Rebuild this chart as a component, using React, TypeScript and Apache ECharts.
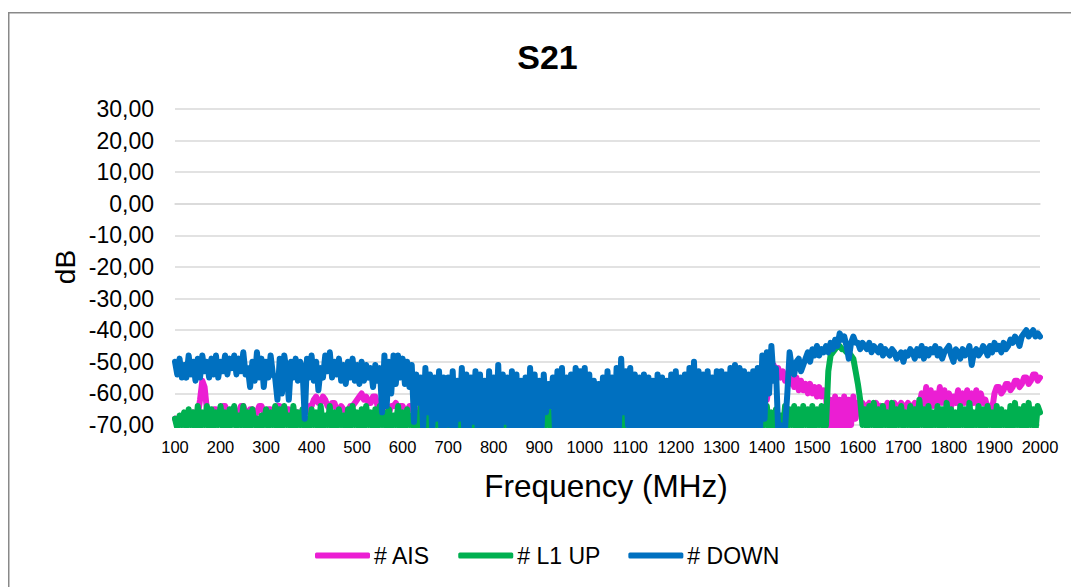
import React, { useEffect, useRef } from "react";
import * as echarts from "echarts";

const FREQ_START = 100;
const FREQ_STEP = 5;

const AIS = [
  -68, -69, -69, -68, -67, -69, -68, -67, -66, -68, -67, -62, -56, -58, -65, -67, -67, -65, -65, -66,
  -66, -64, -64, -67, -67, -65, -65, -67, -66, -64, -64, -66, -67, -65, -65, -67, -66, -64, -64, -66,
  -67, -65, -65, -67, -66, -64, -64, -66, -66, -65, -65, -67, -67, -66, -66, -68, -68, -66, -66, -64,
  -64, -62, -61, -63, -63, -61, -62, -64, -65, -63, -63, -65, -66, -64, -65, -66, -66, -64, -64, -63,
  -62, -61, -60, -62, -61, -63, -63, -61, -61, -64, -65, -64, -64, -65, -66, -64, -64, -63, -65, -64,
  -64, -66, -66, -64, -64, -66, -66, -65, -65, -67, -66, -68, -68, -65, -65, -67, -67, -66, -66, -68,
  -68, -65, -65, -67, -67, -66, -66, -68, -68, -65, -65, -67, -67, -66, -66, -68, -68, -65, -65, -67,
  -67, -66, -66, -68, -68, -65, -65, -67, -67, -66, -66, -68, -67, -65, -66, -67, -68, -66, -65, -67,
  -68, -65, -66, -66, -67, -68, -68, -65, -65, -67, -67, -66, -66, -68, -68, -65, -66, -67, -67, -66,
  -67, -66, -65, -68, -68, -65, -66, -67, -67, -66, -66, -68, -68, -65, -65, -67, -67, -66, -66, -68,
  -68, -65, -65, -67, -67, -66, -66, -68, -68, -65, -65, -67, -67, -66, -66, -68, -68, -65, -65, -67,
  -67, -66, -66, -68, -68, -65, -65, -67, -67, -66, -66, -68, -68, -65, -65, -67, -67, -66, -66, -68,
  -68, -65, -65, -67, -67, -66, -66, -68, -68, -65, -65, -67, -67, -66, -66, -63, -64, -62, -63, -61,
  -62, -57, -53, -51, -54, -52, -55, -53, -56, -54, -57, -54, -58, -55, -59, -56, -59, -57, -60, -57,
  -60, -58, -61, -58, -61, -59, -61, -71, -62, -72, -61, -70, -62, -72, -61, -71, -62, -70, -61, -68,
  -63, -64, -63, -65, -64, -63, -65, -64, -63, -65, -64, -66, -65, -63, -64, -65, -63, -64, -65, -63,
  -65, -64, -63, -65, -64, -63, -65, -64, -60, -64, -58, -63, -59, -64, -60, -63, -58, -63, -59, -64,
  -60, -64, -61, -63, -59, -64, -60, -63, -59, -64, -60, -63, -59, -64, -60, -63, -62, -65, -64, -65,
  -60, -58, -58, -60, -59, -57, -57, -59, -58, -56, -56, -58, -57, -55, -55, -57, -56, -54, -54, -56,
  -55,
];

const L1_UP = [
  -68, -71, -67, -70, -66, -71, -65, -70, -66, -72, -64, -71, -66, -70, -64, -72, -65, -71, -66, -70,
  -64, -71, -66, -72, -65, -70, -64, -71, -67, -70, -64, -72, -66, -71, -65, -70, -68, -72, -67, -70,
  -65, -71, -66, -70, -64, -72, -65, -71, -64, -70, -67, -72, -64, -71, -66, -70, -65, -72, -68, -71,
  -65, -70, -66, -72, -64, -71, -67, -70, -64, -72, -66, -71, -65, -70, -67, -72, -65, -71, -64, -70,
  -66, -72, -65, -71, -64, -70, -66, -72, -65, -71, -64, -70, -66, -72, -65, -71, -67, -70, -64, -72,
  -66, -71, -65, -70, -67, -72, -66, -71, -64, -70, -66, -72, -65, -71, -67, -70, -66, -72, -65, -71,
  -66, -70, -64, -72, -65, -71, -66, -70, -67, -72, -65, -71, -64, -70, -66, -72, -65, -71, -67, -70,
  -64, -72, -66, -71, -65, -70, -67, -72, -64, -71, -66, -70, -65, -72, -67, -71, -64, -70, -66, -72,
  -65, -71, -67, -70, -64, -72, -66, -71, -65, -70, -67, -72, -64, -71, -66, -70, -65, -72, -67, -71,
  -64, -70, -66, -72, -65, -71, -67, -70, -64, -72, -66, -71, -65, -70, -67, -72, -64, -71, -66, -70,
  -65, -72, -67, -71, -64, -70, -66, -72, -65, -71, -67, -70, -64, -72, -66, -71, -65, -70, -67, -72,
  -64, -71, -66, -70, -65, -72, -67, -71, -64, -70, -66, -72, -65, -71, -67, -70, -64, -72, -66, -71,
  -65, -70, -67, -72, -64, -71, -66, -70, -65, -72, -67, -71, -64, -70, -66, -72, -65, -71, -67, -70,
  -64, -72, -66, -71, -65, -70, -67, -72, -64, -71, -65, -70, -64, -72, -65, -71, -64, -70, -65, -72,
  -64, -71, -65, -70, -64, -72, -70, -53, -48, -47, -46, -45, -45, -46, -46, -47, -47, -48, -49, -53,
  -57, -62, -70, -65, -71, -64, -70, -63, -72, -65, -71, -64, -70, -66, -72, -63, -71, -65, -70, -64,
  -71, -66, -70, -64, -72, -65, -71, -62, -70, -65, -72, -64, -71, -66, -70, -64, -72, -65, -71, -63,
  -70, -65, -72, -66, -71, -64, -70, -65, -72, -63, -71, -66, -70, -64, -72, -65, -71, -64, -70, -66,
  -72, -64, -71, -65, -70, -66, -72, -64, -71, -63, -70, -65, -72, -64, -71, -63, -70, -65, -72, -64,
  -66,
];

const DOWN = [
  -50, -54, -49, -55, -51, -55, -48, -54, -50, -56, -49, -55, -48, -53, -50, -55, -49, -54, -48, -55,
  -50, -53, -48, -54, -49, -52, -48, -54, -49, -53, -47, -54, -52, -58, -50, -56, -47, -55, -49, -58,
  -50, -55, -48, -54, -55, -62, -49, -60, -48, -53, -62, -50, -55, -49, -56, -50, -52, -68, -49, -55,
  -48, -56, -50, -59, -52, -55, -48, -53, -47, -55, -50, -54, -49, -56, -51, -57, -50, -55, -49, -56,
  -51, -57, -50, -56, -51, -55, -52, -58, -51, -56, -52, -66, -48, -64, -50, -60, -48, -57, -48, -55,
  -49, -57, -50, -58, -51, -69, -54, -63, -55, -71, -52, -66, -54, -72, -55, -68, -53, -71, -55, -70,
  -55, -70, -53, -72, -56, -68, -52, -71, -54, -73, -55, -69, -53, -72, -54, -70, -56, -72, -53, -71,
  -55, -70, -51, -73, -54, -69, -55, -72, -53, -70, -54, -73, -56, -71, -55, -72, -52, -70, -54, -71,
  -56, -72, -54, -66, -57, -64, -55, -73, -53, -71, -52, -72, -55, -70, -54, -72, -52, -71, -53, -70,
  -52, -72, -54, -70, -56, -73, -57, -71, -55, -72, -53, -73, -55, -70, -52, -71, -49, -66, -53, -70,
  -52, -72, -54, -71, -55, -70, -54, -73, -55, -71, -56, -72, -54, -70, -55, -72, -56, -71, -54, -72,
  -53, -71, -55, -72, -54, -70, -52, -72, -50, -71, -53, -73, -54, -71, -53, -70, -55, -72, -53, -71,
  -53, -70, -54, -72, -52, -71, -51, -73, -52, -70, -53, -72, -54, -71, -53, -70, -52, -72, -48, -68,
  -47, -60, -45, -56, -52, -72, -70, -72, -71, -60, -47, -52, -54, -50, -49, -53, -51, -49, -47, -50,
  -46, -48, -45, -48, -46, -47, -45, -47, -44, -46, -43, -45, -41, -43, -42, -45, -49, -44, -42, -44,
  -44, -46, -44, -45, -46, -44, -47, -45, -46, -47, -45, -48, -46, -47, -48, -46, -47, -49, -48, -47,
  -50, -47, -48, -46, -47, -49, -46, -48, -45, -49, -46, -48, -46, -47, -45, -48, -46, -49, -47, -46,
  -45, -48, -50, -46, -47, -49, -46, -48, -47, -45, -51, -47, -46, -48, -47, -45, -46, -48, -45, -47,
  -44, -46, -45, -47, -44, -46, -45, -43, -44, -42, -43, -45, -42, -41, -40, -42, -41, -40, -42, -41,
  -42,
];

const SERIES_NAMES = ["# AIS", "# L1 UP", "# DOWN"];
const COLORS = ["#EB1ED3", "#00B050", "#0070C0"];
const FONT = "'Liberation Sans', Arial, sans-serif";

function toPoints(vals: number[]) {
  return vals.map((v, i) => [FREQ_START + i * FREQ_STEP, v]);
}

export default function App() {
  const ref = useRef<HTMLDivElement>(null);
  useEffect(() => {
    if (!ref.current) return;
    const chart = echarts.init(ref.current, null, { renderer: "svg" });
    const datasets = [AIS, L1_UP, DOWN];
    chart.setOption({
      animation: false,
      backgroundColor: "#ffffff",
      textStyle: { fontFamily: FONT },
      grid: { left: 167, right: 39, top: 101, bottom: 162, containLabel: false },
      graphic: [
        {
          type: "rect",
          z: -10,
          shape: { x: 0.75, y: 4.75, width: 1200, height: 800 },
          style: { fill: "none", stroke: "#898989", lineWidth: 1.5 },
        },
        {
          type: "text",
          x: 539.5,
          y: 49,
          style: {
            text: "S21",
            font: `bold 34px ${FONT}`,
            fill: "#000",
            textAlign: "center",
            textVerticalAlign: "middle",
          },
        },
        {
          type: "text",
          x: 57,
          y: 259,
          rotation: Math.PI / 2,
          style: {
            text: "dB",
            font: `28px ${FONT}`,
            fill: "#000",
            textAlign: "center",
            textVerticalAlign: "middle",
          },
        },
        {
          type: "text",
          x: 598,
          y: 478,
          style: {
            text: "Frequency (MHz)",
            font: `31.5px ${FONT}`,
            fill: "#000",
            textAlign: "center",
            textVerticalAlign: "middle",
          },
        },
      ],
      legend: {
        left: 302,
        top: 531,
        itemWidth: 55,
        itemHeight: 6,
        itemGap: 28,
        icon: "roundRect",
        textStyle: { fontSize: 23, color: "#000", fontFamily: FONT, padding: [0, 0, 0, -1] },
        data: SERIES_NAMES,
      },
      xAxis: {
        type: "value",
        min: 100,
        max: 2000,
        interval: 100,
        axisLine: { show: true, lineStyle: { color: "#d9d9d9", width: 1.5 } },
        axisTick: { show: false },
        splitLine: { show: false },
        axisLabel: {
          color: "#000",
          fontSize: 16.5,
          fontFamily: FONT,
          margin: 13,
          hideOverlap: false,
          showMinLabel: true,
          showMaxLabel: true,
          formatter: (v: number) => String(v),
        },
      },
      yAxis: {
        type: "value",
        min: -70,
        max: 30,
        interval: 10,
        axisLine: { show: false },
        axisTick: { show: false },
        splitLine: { show: true, lineStyle: { color: "#d9d9d9", width: 1.5 } },
        axisLabel: {
          color: "#000",
          fontSize: 23,
          fontFamily: FONT,
          margin: 21,
          formatter: (v: number) => v.toFixed(2).replace(".", ","),
        },
      },
      series: datasets.map((vals, k) => ({
        name: SERIES_NAMES[k],
        type: "line",
        data: toPoints(vals),
        symbol: "none",
        showSymbol: false,
        clip: true,
        color: COLORS[k],
        lineStyle: { color: COLORS[k], width: 6, cap: "round", join: "round" },
        z: 2 + k,
      })),
    });
    return () => chart.dispose();
  }, []);
  return <div ref={ref} style={{ width: 1071, height: 579 }} />;
}
